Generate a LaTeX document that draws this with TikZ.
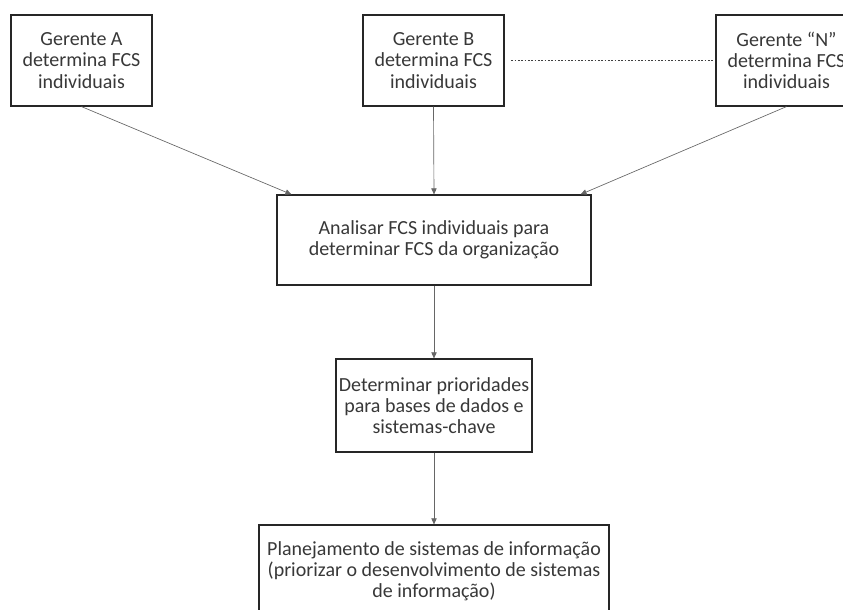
\documentclass[tikz,border=0pt]{standalone}
\usepackage{fontspec}
\setmainfont{Carlito}
\usepackage{tikz}
\usetikzlibrary{calc,positioning,arrows.meta}

\tikzset{
  fcsbox/.style={rectangle, draw=black!85, line width=0.9pt, fill=white, align=center,
    inner sep=2pt, font=\fontsize{15}{15.9}\selectfont, text=black!78},
  fcsarrow/.style={-{Triangle[width=4pt,length=4.5pt]}, draw=black!60, line width=0.5pt},
}

\begin{document}
\begin{tikzpicture}[x=0.75pt, y=-0.75pt]
% Frame of the picture (right and bottom boxes run past the edge)
\clip (0,0) rectangle (843,610);
% --- Managers (top row) ---
\node[fcsbox, minimum width=141*0.75pt, minimum height=91*0.75pt] (GA) at (81.5,60.5) {Gerente A\\determina FCS\\individuais};
\node[fcsbox, minimum width=141*0.75pt, minimum height=91*0.75pt] (GB) at (433.5,60.5) {Gerente B\\determina FCS\\individuais};
\node[fcsbox, minimum width=141*0.75pt, minimum height=91*0.75pt] (GN) at (786.5,60.5) {Gerente ``N''\\determina FCS\\individuais};
% Dotted link between B and N
\draw[black!75, line width=1.2pt, dash pattern=on 1.2pt off 1.3pt, shorten <=5pt, shorten >=2pt] (GB.east) -- (GN.west);
% --- Analysis of the individual FCS ---
\node[fcsbox, minimum width=314*0.75pt, minimum height=90*0.75pt] (ANA) at (434,240) {Analisar FCS individuais para\\determinar FCS da organização};
% --- Priorities ---
\node[fcsbox, minimum width=196*0.75pt, minimum height=93*0.75pt] (PRI) at (434,405.5) {Determinar prioridades\\para bases de dados e\\sistemas-chave};
% --- Planning ---
\node[fcsbox, minimum width=350*0.75pt, minimum height=93*0.75pt] (PLA) at (434,571.5) {Planejamento de sistemas de informação\\(priorizar o desenvolvimento de sistemas\\de informação)};
% Arrows
\draw[fcsarrow] (GA.south) -- ([xshift=15*0.75pt]ANA.north west);
\draw[fcsarrow] (GB.south) -- (ANA.north);
\draw[fcsarrow] (GN.south) -- ([xshift=-11*0.75pt]ANA.north east);
\draw[fcsarrow] (ANA.south) -- (PRI.north);
\draw[fcsarrow] (PRI.south) -- (PLA.north);
\end{tikzpicture}
\end{document}
